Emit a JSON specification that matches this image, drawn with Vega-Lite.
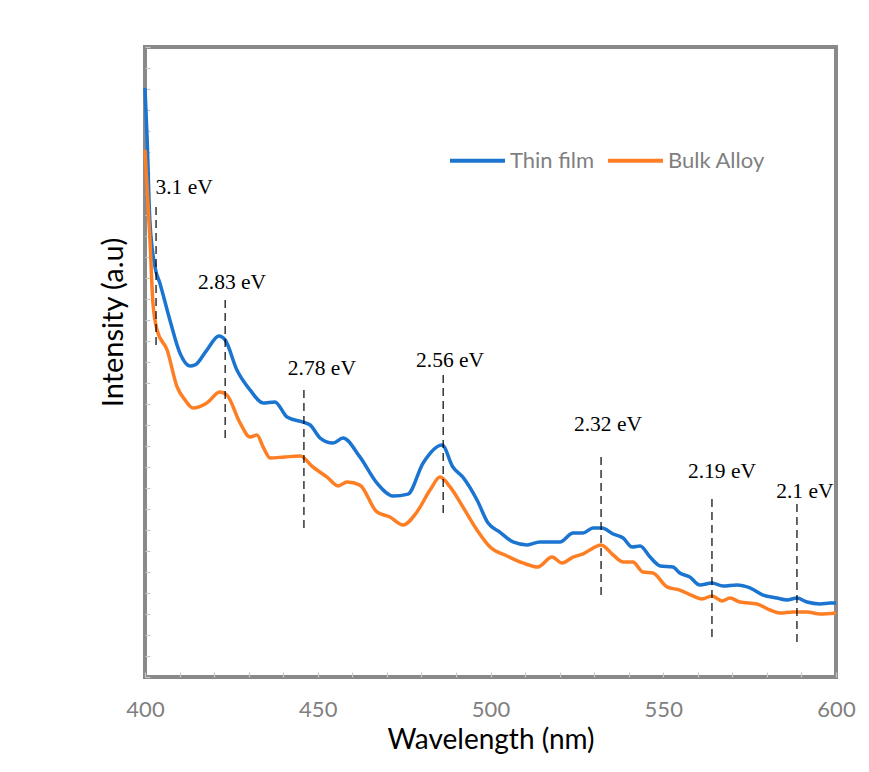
{
  "$schema": "https://vega.github.io/schema/vega-lite/v6.json",
  "autosize": {"type": "none"},
  "padding": {"left": 145, "top": 47, "right": 33, "bottom": 95},
  "width": 691,
  "height": 630,
  "background": "white",
  "config": {
    "view": {"stroke": "#898989", "strokeWidth": 4},
    "font": "Lato"
  },
  "datasets": {
    "curves": [
      {"wavelength": 400.0, "intensity": 28.05, "sample": "Thin film"},
      {"wavelength": 400.6, "intensity": 25.71, "sample": "Thin film"},
      {"wavelength": 401.4, "intensity": 21.76, "sample": "Thin film"},
      {"wavelength": 402.9, "intensity": 19.52, "sample": "Thin film"},
      {"wavelength": 404.3, "intensity": 18.76, "sample": "Thin film"},
      {"wavelength": 407.2, "intensity": 17.0, "sample": "Thin film"},
      {"wavelength": 410.1, "intensity": 15.43, "sample": "Thin film"},
      {"wavelength": 413.0, "intensity": 14.81, "sample": "Thin film"},
      {"wavelength": 414.5, "intensity": 14.86, "sample": "Thin film"},
      {"wavelength": 417.9, "intensity": 15.57, "sample": "Thin film"},
      {"wavelength": 421.4, "intensity": 16.24, "sample": "Thin film"},
      {"wavelength": 423.2, "intensity": 16.05, "sample": "Thin film"},
      {"wavelength": 426.6, "intensity": 14.62, "sample": "Thin film"},
      {"wavelength": 430.4, "intensity": 13.67, "sample": "Thin film"},
      {"wavelength": 434.2, "intensity": 13.05, "sample": "Thin film"},
      {"wavelength": 437.6, "intensity": 13.1, "sample": "Thin film"},
      {"wavelength": 441.1, "intensity": 12.38, "sample": "Thin film"},
      {"wavelength": 445.7, "intensity": 12.14, "sample": "Thin film"},
      {"wavelength": 447.8, "intensity": 12.0, "sample": "Thin film"},
      {"wavelength": 450.7, "intensity": 11.38, "sample": "Thin film"},
      {"wavelength": 454.4, "intensity": 11.14, "sample": "Thin film"},
      {"wavelength": 457.3, "intensity": 11.38, "sample": "Thin film"},
      {"wavelength": 462.2, "intensity": 10.48, "sample": "Thin film"},
      {"wavelength": 467.1, "intensity": 9.24, "sample": "Thin film"},
      {"wavelength": 471.8, "intensity": 8.62, "sample": "Thin film"},
      {"wavelength": 476.1, "intensity": 8.71, "sample": "Thin film"},
      {"wavelength": 480.5, "intensity": 10.19, "sample": "Thin film"},
      {"wavelength": 486.0, "intensity": 11.05, "sample": "Thin film"},
      {"wavelength": 489.1, "intensity": 10.0, "sample": "Thin film"},
      {"wavelength": 492.0, "intensity": 9.52, "sample": "Thin film"},
      {"wavelength": 496.1, "intensity": 8.43, "sample": "Thin film"},
      {"wavelength": 499.3, "intensity": 7.33, "sample": "Thin film"},
      {"wavelength": 502.7, "intensity": 6.9, "sample": "Thin film"},
      {"wavelength": 506.5, "intensity": 6.43, "sample": "Thin film"},
      {"wavelength": 510.6, "intensity": 6.29, "sample": "Thin film"},
      {"wavelength": 514.3, "intensity": 6.43, "sample": "Thin film"},
      {"wavelength": 520.1, "intensity": 6.43, "sample": "Thin film"},
      {"wavelength": 523.9, "intensity": 6.86, "sample": "Thin film"},
      {"wavelength": 526.8, "intensity": 6.86, "sample": "Thin film"},
      {"wavelength": 529.7, "intensity": 7.1, "sample": "Thin film"},
      {"wavelength": 532.3, "intensity": 7.1, "sample": "Thin film"},
      {"wavelength": 535.5, "intensity": 6.81, "sample": "Thin film"},
      {"wavelength": 538.4, "intensity": 6.62, "sample": "Thin film"},
      {"wavelength": 541.0, "intensity": 6.19, "sample": "Thin film"},
      {"wavelength": 543.3, "intensity": 6.24, "sample": "Thin film"},
      {"wavelength": 546.2, "intensity": 5.71, "sample": "Thin film"},
      {"wavelength": 549.1, "intensity": 5.29, "sample": "Thin film"},
      {"wavelength": 552.8, "intensity": 5.24, "sample": "Thin film"},
      {"wavelength": 554.8, "intensity": 4.95, "sample": "Thin film"},
      {"wavelength": 557.7, "intensity": 4.76, "sample": "Thin film"},
      {"wavelength": 560.6, "intensity": 4.38, "sample": "Thin film"},
      {"wavelength": 564.1, "intensity": 4.48, "sample": "Thin film"},
      {"wavelength": 567.3, "intensity": 4.33, "sample": "Thin film"},
      {"wavelength": 571.3, "intensity": 4.38, "sample": "Thin film"},
      {"wavelength": 575.1, "intensity": 4.24, "sample": "Thin film"},
      {"wavelength": 578.9, "intensity": 3.9, "sample": "Thin film"},
      {"wavelength": 582.9, "intensity": 3.76, "sample": "Thin film"},
      {"wavelength": 585.8, "intensity": 3.67, "sample": "Thin film"},
      {"wavelength": 588.7, "intensity": 3.76, "sample": "Thin film"},
      {"wavelength": 591.6, "intensity": 3.57, "sample": "Thin film"},
      {"wavelength": 595.4, "intensity": 3.48, "sample": "Thin film"},
      {"wavelength": 598.3, "intensity": 3.52, "sample": "Thin film"},
      {"wavelength": 600.0, "intensity": 3.52, "sample": "Thin film"},
      {"wavelength": 400.0, "intensity": 25.1, "sample": "Bulk Alloy"},
      {"wavelength": 401.4, "intensity": 20.95, "sample": "Bulk Alloy"},
      {"wavelength": 402.3, "intensity": 17.81, "sample": "Bulk Alloy"},
      {"wavelength": 403.5, "intensity": 16.52, "sample": "Bulk Alloy"},
      {"wavelength": 406.4, "intensity": 15.57, "sample": "Bulk Alloy"},
      {"wavelength": 409.3, "intensity": 13.81, "sample": "Bulk Alloy"},
      {"wavelength": 411.6, "intensity": 13.19, "sample": "Bulk Alloy"},
      {"wavelength": 413.9, "intensity": 12.81, "sample": "Bulk Alloy"},
      {"wavelength": 417.9, "intensity": 13.05, "sample": "Bulk Alloy"},
      {"wavelength": 421.7, "intensity": 13.57, "sample": "Bulk Alloy"},
      {"wavelength": 423.7, "intensity": 13.43, "sample": "Bulk Alloy"},
      {"wavelength": 427.5, "intensity": 12.1, "sample": "Bulk Alloy"},
      {"wavelength": 430.4, "intensity": 11.43, "sample": "Bulk Alloy"},
      {"wavelength": 432.4, "intensity": 11.52, "sample": "Bulk Alloy"},
      {"wavelength": 434.2, "intensity": 10.95, "sample": "Bulk Alloy"},
      {"wavelength": 436.2, "intensity": 10.43, "sample": "Bulk Alloy"},
      {"wavelength": 440.5, "intensity": 10.48, "sample": "Bulk Alloy"},
      {"wavelength": 444.9, "intensity": 10.52, "sample": "Bulk Alloy"},
      {"wavelength": 448.6, "intensity": 10.0, "sample": "Bulk Alloy"},
      {"wavelength": 452.7, "intensity": 9.52, "sample": "Bulk Alloy"},
      {"wavelength": 455.9, "intensity": 9.1, "sample": "Bulk Alloy"},
      {"wavelength": 458.5, "intensity": 9.29, "sample": "Bulk Alloy"},
      {"wavelength": 462.2, "intensity": 9.14, "sample": "Bulk Alloy"},
      {"wavelength": 467.1, "intensity": 7.86, "sample": "Bulk Alloy"},
      {"wavelength": 470.9, "intensity": 7.62, "sample": "Bulk Alloy"},
      {"wavelength": 474.7, "intensity": 7.24, "sample": "Bulk Alloy"},
      {"wavelength": 478.7, "intensity": 7.86, "sample": "Bulk Alloy"},
      {"wavelength": 482.5, "intensity": 8.9, "sample": "Bulk Alloy"},
      {"wavelength": 485.4, "intensity": 9.52, "sample": "Bulk Alloy"},
      {"wavelength": 488.3, "intensity": 9.05, "sample": "Bulk Alloy"},
      {"wavelength": 492.0, "intensity": 8.1, "sample": "Bulk Alloy"},
      {"wavelength": 496.1, "intensity": 7.0, "sample": "Bulk Alloy"},
      {"wavelength": 499.9, "intensity": 6.19, "sample": "Bulk Alloy"},
      {"wavelength": 504.8, "intensity": 5.76, "sample": "Bulk Alloy"},
      {"wavelength": 509.4, "intensity": 5.43, "sample": "Bulk Alloy"},
      {"wavelength": 513.7, "intensity": 5.24, "sample": "Bulk Alloy"},
      {"wavelength": 517.8, "intensity": 5.71, "sample": "Bulk Alloy"},
      {"wavelength": 520.7, "intensity": 5.43, "sample": "Bulk Alloy"},
      {"wavelength": 523.9, "intensity": 5.71, "sample": "Bulk Alloy"},
      {"wavelength": 526.8, "intensity": 5.86, "sample": "Bulk Alloy"},
      {"wavelength": 529.7, "intensity": 6.14, "sample": "Bulk Alloy"},
      {"wavelength": 532.0, "intensity": 6.29, "sample": "Bulk Alloy"},
      {"wavelength": 535.5, "intensity": 5.81, "sample": "Bulk Alloy"},
      {"wavelength": 538.4, "intensity": 5.48, "sample": "Bulk Alloy"},
      {"wavelength": 541.2, "intensity": 5.48, "sample": "Bulk Alloy"},
      {"wavelength": 544.1, "intensity": 5.0, "sample": "Bulk Alloy"},
      {"wavelength": 547.0, "intensity": 4.95, "sample": "Bulk Alloy"},
      {"wavelength": 551.1, "intensity": 4.29, "sample": "Bulk Alloy"},
      {"wavelength": 554.8, "intensity": 4.14, "sample": "Bulk Alloy"},
      {"wavelength": 558.6, "intensity": 3.86, "sample": "Bulk Alloy"},
      {"wavelength": 561.2, "intensity": 3.71, "sample": "Bulk Alloy"},
      {"wavelength": 564.1, "intensity": 3.86, "sample": "Bulk Alloy"},
      {"wavelength": 567.0, "intensity": 3.62, "sample": "Bulk Alloy"},
      {"wavelength": 569.3, "intensity": 3.76, "sample": "Bulk Alloy"},
      {"wavelength": 572.2, "intensity": 3.57, "sample": "Bulk Alloy"},
      {"wavelength": 577.1, "intensity": 3.48, "sample": "Bulk Alloy"},
      {"wavelength": 580.9, "intensity": 3.19, "sample": "Bulk Alloy"},
      {"wavelength": 583.8, "intensity": 3.05, "sample": "Bulk Alloy"},
      {"wavelength": 587.6, "intensity": 3.1, "sample": "Bulk Alloy"},
      {"wavelength": 591.6, "intensity": 3.1, "sample": "Bulk Alloy"},
      {"wavelength": 595.4, "intensity": 3.0, "sample": "Bulk Alloy"},
      {"wavelength": 600.0, "intensity": 3.05, "sample": "Bulk Alloy"}
    ],
    "peaks": [
      {"label": "3.1 eV", "wavelength": 403.2, "top": 22.38, "bottom": 15.67, "labelWavelength": 411.3, "labelIntensity": 23.29},
      {"label": "2.83 eV", "wavelength": 423.2, "top": 17.95, "bottom": 11.29, "labelWavelength": 425.2, "labelIntensity": 18.76},
      {"label": "2.78 eV", "wavelength": 446.0, "top": 13.67, "bottom": 7.0, "labelWavelength": 451.2, "labelIntensity": 14.67},
      {"label": "2.56 eV", "wavelength": 486.3, "top": 14.38, "bottom": 7.71, "labelWavelength": 488.3, "labelIntensity": 15.05},
      {"label": "2.32 eV", "wavelength": 532.0, "top": 10.48, "bottom": 3.81, "labelWavelength": 534.0, "labelIntensity": 12.0},
      {"label": "2.19 eV", "wavelength": 564.1, "top": 8.48, "bottom": 1.86, "labelWavelength": 567.0, "labelIntensity": 9.76},
      {"label": "2.1 eV", "wavelength": 588.7, "top": 8.24, "bottom": 1.62, "labelWavelength": 591.0, "labelIntensity": 8.81}
    ]
  },
  "layer": [
    {
      "data": {"name": "curves"},
      "mark": {"type": "line", "strokeWidth": 3.5, "interpolate": "monotone"},
      "encoding": {
        "x": {
          "field": "wavelength", "type": "quantitative",
          "scale": {"domain": [400, 600], "nice": false, "zero": false},
          "axis": {
            "title": "Wavelength (nm)",
            "values": [400,410,420,430,440,450,460,470,480,490,500,510,520,530,540,550,560,570,580,590,600],
            "tickCount": 100,
            "labelExpr": "datum.value % 50 === 0 ? datum.label : ''",
            "labelFlush": false,
            "labelOverlap": false,
            "labelFontSize": 22,
            "labelColor": "#7f7f7f",
            "labelFont": "Lato",
            "labelPadding": 27,
            "grid": false,
            "domain": false,
            "tickSize": -5,
            "tickColor": "#c8c8c8",
            "tickWidth": 1.2,
            "titleFontSize": 28,
            "titleFont": "Lato",
            "titleFontWeight": "normal",
            "titleColor": "#000000",
            "titlePadding": 6
          }
        },
        "y": {
          "field": "intensity", "type": "quantitative",
          "scale": {"domain": [0, 30], "nice": false},
          "axis": {
            "title": "Intensity (a.u)",
            "values": [0,1,2,3,4,5,6,7,8,9,10,11,12,13,14,15,16,17,18,19,20,21,22,23,24,25,26,27,28,29,30],
            "tickCount": 100,
            "labels": false,
            "labelOverlap": false,
            "grid": false,
            "domain": false,
            "tickSize": -5,
            "tickColor": "#c8c8c8",
            "tickWidth": 1.2,
            "titleFontSize": 29,
            "titleFont": "Lato",
            "titleFontWeight": "normal",
            "titleColor": "#000000",
            "titlePadding": 16,
            "titleY": 275
          }
        },
        "color": {
          "field": "sample", "type": "nominal",
          "scale": {"domain": ["Thin film", "Bulk Alloy"], "range": ["#1b75d0", "#fe7e24"]},
          "legend": {
            "title": null,
            "orient": "none",
            "direction": "horizontal",
            "legendX": 303,
            "legendY": 84,
            "symbolType": "stroke",
            "symbolSize": 3025,
            "symbolStrokeWidth": 4,
            "labelFontSize": 22,
            "labelColor": "#7f7f7f",
            "labelFont": "Lato",
            "labelOffset": 3,
            "columnPadding": 5,
            "padding": 0
          }
        }
      }
    },
    {
      "data": {"name": "peaks"},
      "mark": {"type": "rule", "color": "#000000", "strokeDash": [8, 5], "strokeWidth": 1.2},
      "encoding": {
        "x": {"field": "wavelength", "type": "quantitative"},
        "y": {"field": "top", "type": "quantitative"},
        "y2": {"field": "bottom"}
      }
    },
    {
      "data": {"name": "peaks"},
      "mark": {"type": "text", "font": "Liberation Serif", "fontSize": 21.5, "color": "#000000", "align": "center", "baseline": "middle"},
      "encoding": {
        "x": {"field": "labelWavelength", "type": "quantitative"},
        "y": {"field": "labelIntensity", "type": "quantitative"},
        "text": {"field": "label"}
      }
    }
  ]
}
